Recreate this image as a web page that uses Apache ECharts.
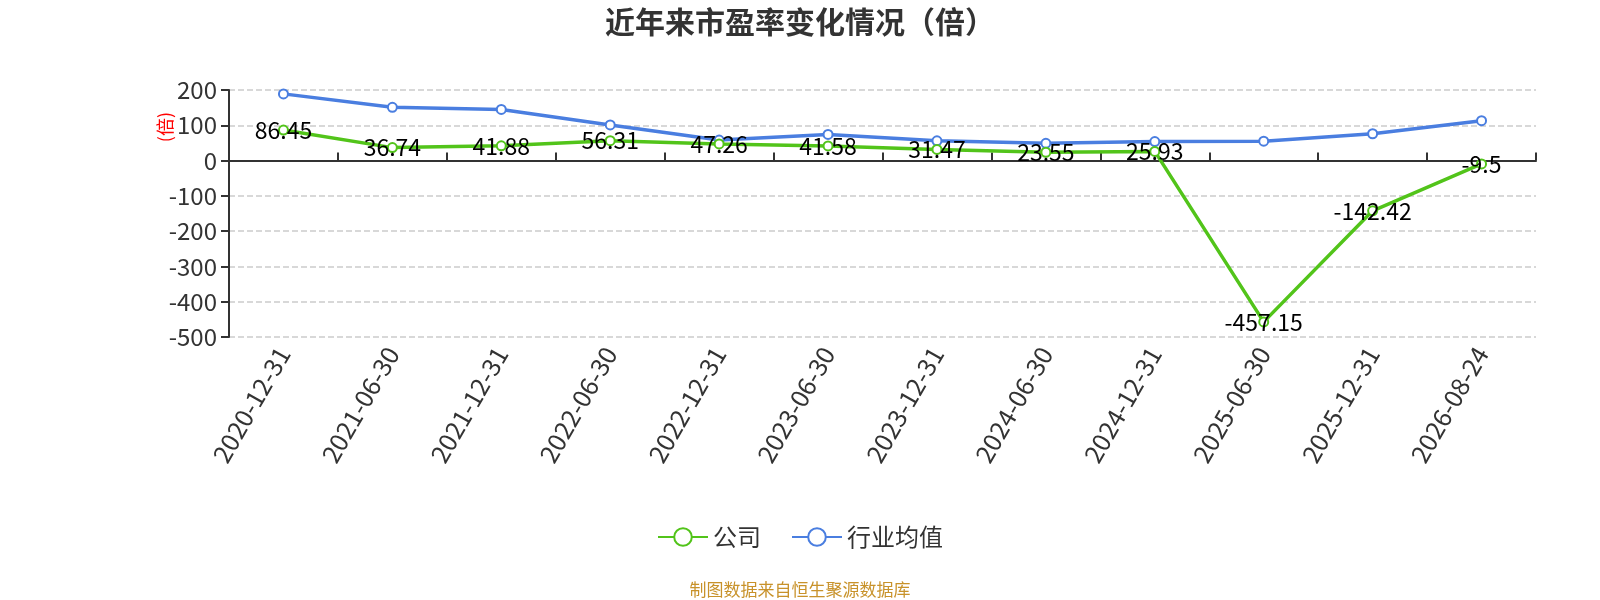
<!DOCTYPE html>
<html>
<head>
<meta charset="utf-8">
<script src="https://cdn.jsdelivr.net/npm/echarts@6/dist/echarts.min.js"></script>
<style>
	html, body { margin: 0; padding: 0; background: #fff; }
	#chart { width: 1600px; height: 600px; }
</style>
</head>
<body>
<div id="chart"></div>
<script>
	var categories = ['2020-12-31', '2021-06-30', '2021-12-31', '2022-06-30', '2022-12-31', '2023-06-30',
		'2023-12-31', '2024-06-30', '2024-12-31', '2025-06-30', '2025-12-31', '2026-08-24'];
	var companyPE = [86.45, 36.74, 41.88, 56.31, 47.26, 41.58, 31.47, 23.55, 25.93, -457.15, -142.42, -9.5];
	var industryPE = [189, 151, 145, 101, 58, 74, 56, 49, 54, 55, 76, 113];
	var yTicks = { min: -500, max: 200, interval: 100 };

	var font = '"Noto Sans CJK SC", "Noto Sans", sans-serif';
	var myChart = echarts.init(document.getElementById('chart'));

	// 配置项
	var option = {
		textStyle: { fontFamily: font },
		title: {
			text: '近年来市盈率变化情况（倍）',
			left: 'center',
			top: 2,
			textStyle: { fontSize: 30, fontWeight: 'bold', color: '#333', fontFamily: font }
		},
		legend: {
			bottom: 46,
			left: 'center',
			itemWidth: 50,
			itemHeight: 22,
			itemGap: 30,
			textStyle: { fontSize: 24, color: '#333' },
			data: ['公司', '行业均值']
		},
		grid: { left: 229, right: 64, top: 90, bottom: 263 },
		xAxis: [{
			type: 'category',
			data: categories,
			boundaryGap: true,
			position: 'bottom',
			axisLine: { show: false, onZero: false },
			axisTick: { show: false },
			axisLabel: { rotate: 60, fontSize: 25, color: '#333', margin: 12, interval: 0 }
		}, {
			type: 'category',
			data: categories,
			boundaryGap: true,
			axisLine: { onZero: true, lineStyle: { color: '#333', width: 2 } },
			axisTick: { show: true, length: 8, lineStyle: { color: '#333', width: 2 } },
			axisLabel: { show: false }
		}],
		yAxis: {
			type: 'value',
			min: yTicks.min,
			max: yTicks.max,
			interval: yTicks.interval,
			axisLine: { show: true, lineStyle: { color: '#333', width: 2 } },
			axisTick: { show: true, length: 8, lineStyle: { color: '#333', width: 2 } },
			axisLabel: { fontSize: 24, color: '#333', margin: 12 },
			splitLine: { lineStyle: { type: 'dashed', color: '#ccc', width: 1.5 } }
		},
		graphic: [{
			type: 'text',
			left: 156,
			top: 112,
			rotation: Math.PI / 2,
			style: { text: '(倍)', fill: '#f00', font: '18px ' + font }
		}, {
			type: 'text',
			left: 'center',
			bottom: 2,
			style: { text: '制图数据来自恒生聚源数据库', fill: '#c8922a', font: '17px ' + font }
		}],
		series: [{
			name: '公司',
			type: 'line',
			xAxisIndex: 0,
			data: companyPE,
			symbol: 'emptyCircle',
			symbolSize: 9,
			color: '#52c41a',
			lineStyle: { width: 3.5 },
			label: { show: true, position: 'inside', fontSize: 23, color: '#000' },
			z: 3
		}, {
			name: '行业均值',
			type: 'line',
			xAxisIndex: 0,
			data: industryPE,
			symbol: 'emptyCircle',
			symbolSize: 9,
			color: '#4a7ee0',
			lineStyle: { width: 3.5 },
			z: 2
		}]
	};

	myChart.setOption(option);
</script>
</body>
</html>
